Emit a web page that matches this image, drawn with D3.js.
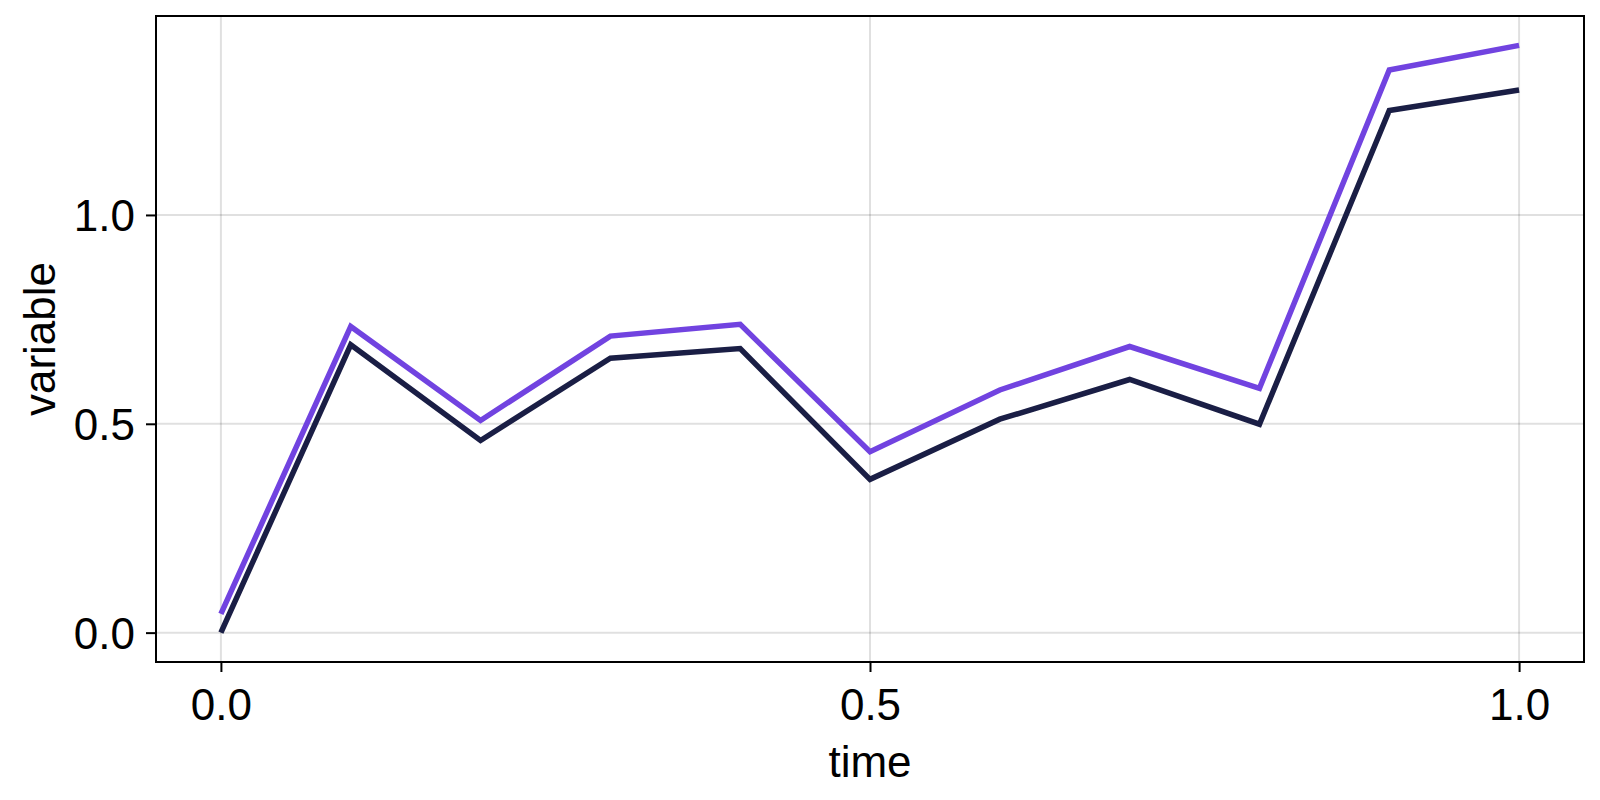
<!DOCTYPE html>
<html>
<head>
<meta charset="utf-8">
<script src="https://cdn.jsdelivr.net/npm/d3@7"></script>
<style>
  html, body { margin: 0; padding: 0; background: #fff; }
  svg { display: block; }
  text { font-family: "Liberation Sans", Arial, Helvetica, sans-serif; fill: #000; }
</style>
</head>
<body>
<svg id="chart" width="1600" height="800"></svg>
<script>
const times = [0.0, 0.1, 0.2, 0.3, 0.4, 0.5, 0.6, 0.7, 0.8, 0.9, 1.0];
const seriesDark = [0.0, 0.689, 0.460, 0.657, 0.680, 0.367, 0.511, 0.606, 0.499, 1.250, 1.299];
const seriesPurple = [0.045, 0.733, 0.508, 0.710, 0.738, 0.433, 0.581, 0.685, 0.585, 1.347, 1.406];
const xTicks = [0.0, 0.5, 1.0];
const yTicks = [0.0, 0.5, 1.0];
const xTickLabels = ["0.0", "0.5", "1.0"];
const yTickLabels = ["0.0", "0.5", "1.0"];
const xLabel = "time";
const yLabel = "variable";

const svg = d3.select("#chart");
const L = 156, R = 1584, T = 16, B = 662;
const FS = "44px";

const allY = seriesDark.concat(seriesPurple);
const yMin = d3.min(allY), yMax = d3.max(allY);
const yPad = (yMax - yMin) * 0.05;
const x = d3.scaleLinear().domain([-0.05, 1.05]).range([L, R]);
const y = d3.scaleLinear().domain([yMin - yPad, yMax + yPad]).range([B, T]);

// grid
const g = svg.append("g");
g.selectAll(".gx").data(xTicks).enter().append("line")
  .attr("x1", d => x(d)).attr("x2", d => x(d)).attr("y1", T).attr("y2", B)
  .attr("stroke", "rgba(0,0,0,0.12)").attr("stroke-width", 2);
g.selectAll(".gy").data(yTicks).enter().append("line")
  .attr("x1", L).attr("x2", R).attr("y1", d => y(d)).attr("y2", d => y(d))
  .attr("stroke", "rgba(0,0,0,0.12)").attr("stroke-width", 2);

// lines
const line = d3.line().x((d, i) => x(times[i])).y(d => y(d));
[[seriesPurple, "#7143e0"], [seriesDark, "#1a1e45"]].forEach(([s, c]) => {
  svg.append("path").datum(s).attr("d", line)
    .attr("fill", "none").attr("stroke", c).attr("stroke-width", 5.5)
    .attr("stroke-linejoin", "miter").attr("stroke-linecap", "butt");
});

// frame
svg.append("rect").attr("x", L).attr("y", T).attr("width", R - L).attr("height", B - T)
  .attr("fill", "none").attr("stroke", "#000").attr("stroke-width", 2);

// x axis ticks
const xAxis = d3.axisBottom(x).tickValues(xTicks).tickSize(10).tickPadding(0)
  .tickFormat((d, i) => xTickLabels[i]);
const xa = svg.append("g").attr("transform", `translate(0,${B})`).call(xAxis);
xa.select(".domain").remove();
xa.selectAll(".tick line").attr("stroke", "#000").attr("stroke-width", 2);
xa.selectAll(".tick text").attr("dy", null).attr("y", 58)
  .style("font-size", FS).style("font-family", "'Liberation Sans', Arial, sans-serif").attr("fill", "#000");

// y axis ticks
const yAxis = d3.axisLeft(y).tickValues(yTicks).tickSize(10).tickPadding(0)
  .tickFormat((d, i) => yTickLabels[i]);
const ya = svg.append("g").attr("transform", `translate(${L},0)`).call(yAxis);
ya.select(".domain").remove();
ya.selectAll(".tick line").attr("stroke", "#000").attr("stroke-width", 2);
ya.selectAll(".tick text").attr("dy", null).attr("x", -21).attr("y", 15.5)
  .style("font-size", FS).style("font-family", "'Liberation Sans', Arial, sans-serif").attr("fill", "#000");

// axis labels
svg.append("text").attr("x", (L + R) / 2).attr("y", 777).attr("text-anchor", "middle")
  .style("font-size", FS).text(xLabel);
svg.append("text").attr("transform", `translate(55,${(T + B) / 2}) rotate(-90)`)
  .attr("text-anchor", "middle").style("font-size", FS).text(yLabel);
</script>
</body>
</html>
